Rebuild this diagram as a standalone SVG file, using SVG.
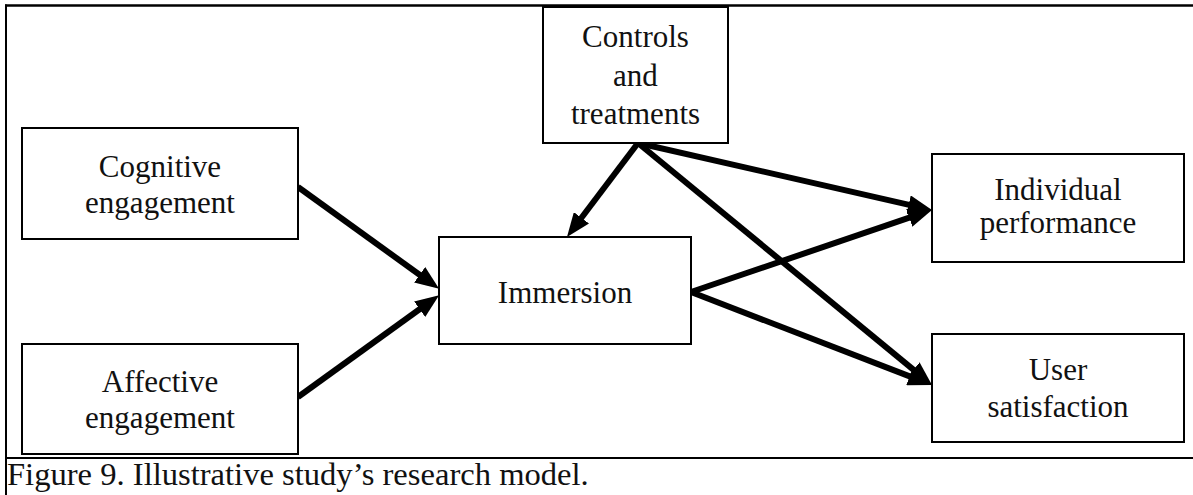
<svg xmlns="http://www.w3.org/2000/svg" width="1193" height="495" viewBox="0 0 1193 495">
  <style>
    .box { fill: #fff; stroke: #000; stroke-width: 2; }
    .lbl { font-family: 'Liberation Serif', 'DejaVu Serif', serif; font-size: 31px; fill: #111; text-anchor: middle; }
    .cap { font-family: 'Liberation Serif', 'DejaVu Serif', serif; font-size: 32.6px; fill: #111; }
    .edge { stroke: #000; stroke-width: 6; fill: none; marker-end: url(#head); }
    .rule { stroke: #000; fill: none; }
  </style>
  <defs>
    <marker id="head" viewBox="0 0 24 19" refX="14" refY="9.5" markerWidth="24" markerHeight="19" markerUnits="userSpaceOnUse" orient="auto">
      <path d="M0,0 L24,9.5 L0,19 z" fill="#000"/>
    </marker>
  </defs>
  <rect width="1193" height="495" fill="#fff"/>

  <!-- figure frame -->
  <g id="frame">
    <line class="rule" x1="5" y1="5.5" x2="1193" y2="5.5" stroke-width="2.5"/>
    <line class="rule" x1="6" y1="4.5" x2="6" y2="495" stroke-width="2"/>
    <line class="rule" x1="5" y1="458" x2="1193" y2="458" stroke-width="2"/>
  </g>

  <!-- connectors (line ends sit 10px short of each arrow tip) -->
  <g id="connectors">
    <line class="edge" x1="298" y1="187" x2="431" y2="283"/>
    <line class="edge" x1="298" y1="397" x2="431" y2="301"/>
    <line class="edge" x1="638" y1="143" x2="573" y2="229"/>
    <line class="edge" x1="638" y1="143" x2="922.3" y2="207.8"/>
    <line class="edge" x1="638" y1="143" x2="924.3" y2="378.6"/>
    <line class="edge" x1="691" y1="292" x2="922.5" y2="213.2"/>
    <line class="edge" x1="691" y1="292" x2="922.7" y2="381.4"/>
  </g>

  <g id="cognitive">
    <rect class="box" x="22" y="128" width="276" height="111"/>
    <text class="lbl" x="160" y="177">Cognitive</text>
    <text class="lbl" x="160" y="213">engagement</text>
  </g>

  <g id="affective">
    <rect class="box" x="22" y="344" width="276" height="110"/>
    <text class="lbl" x="160" y="392">Affective</text>
    <text class="lbl" x="160" y="428">engagement</text>
  </g>

  <g id="controls">
    <rect class="box" x="543" y="7" width="185" height="136"/>
    <text class="lbl" x="635.5" y="47">Controls</text>
    <text class="lbl" x="635.5" y="86">and</text>
    <text class="lbl" x="635.5" y="124">treatments</text>
  </g>

  <g id="immersion">
    <rect class="box" x="439" y="237" width="252" height="107"/>
    <text class="lbl" x="565" y="303">Immersion</text>
  </g>

  <g id="individual">
    <rect class="box" x="932" y="154" width="252" height="108"/>
    <text class="lbl" x="1058" y="200">Individual</text>
    <text class="lbl" x="1058" y="233">performance</text>
  </g>

  <g id="user">
    <rect class="box" x="932" y="334" width="252" height="108"/>
    <text class="lbl" x="1058" y="380">User</text>
    <text class="lbl" x="1058" y="417">satisfaction</text>
  </g>

  <text class="cap" x="7" y="485">Figure 9. Illustrative study’s research model.</text>
</svg>
